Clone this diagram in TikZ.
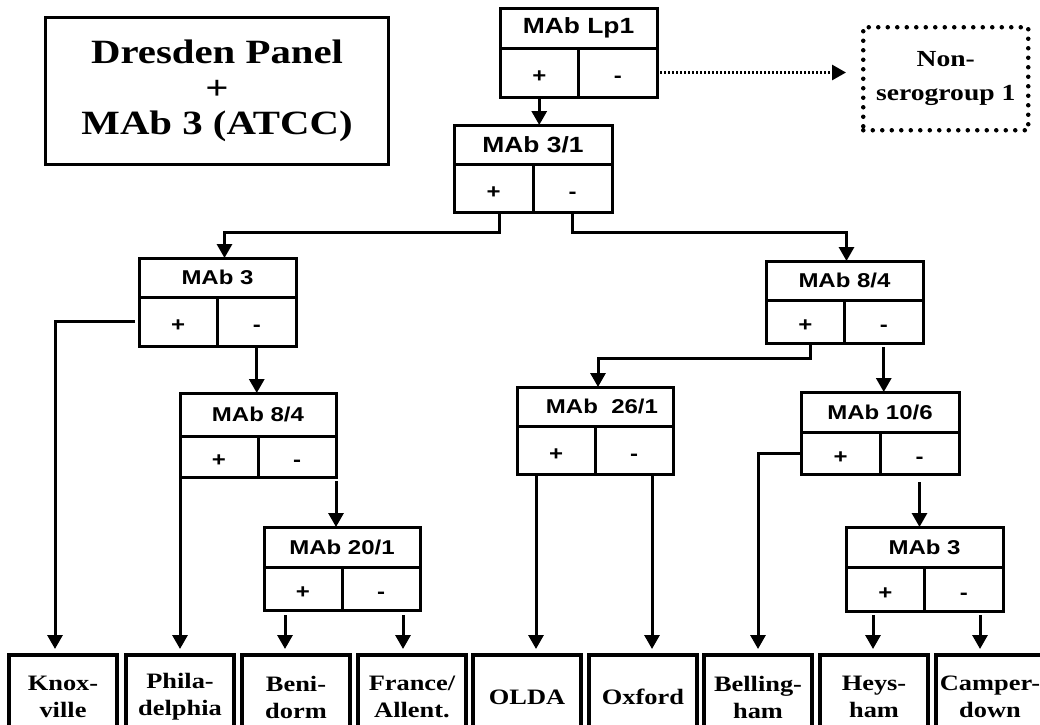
\documentclass[tikz,border=0pt]{standalone}
\usepackage{fontspec}
\setmainfont{Liberation Serif}
\newfontfamily\tms[FakeStretch=1.2]{Liberation Serif}
\newfontfamily\hv[FakeStretch=1.2]{Liberation Sans}
\usetikzlibrary{arrows.meta}
\tikzset{
  box/.style={draw, line width=3pt, inner sep=0pt, outer sep=0pt},
  hdr/.style={box, anchor=north west, font={\hv\bfseries\fontsize{20}{24}\selectfont}},
  cell/.style={box, text height=20pt, text depth=0pt, font={\hv\bfseries\fontsize{20}{24}\selectfont}},
  leaf/.style={draw, line width=3.2pt, inner sep=0pt, outer sep=0pt, anchor=north west,
    minimum width=108pt, minimum height=84pt, align=center,
    font={\tms\bfseries\fontsize{22}{27}\selectfont}},
  titlebox/.style={draw, line width=3.2pt, inner sep=0pt, anchor=north west, align=center,
    font={\tms\bfseries\fontsize{34}{35.5}\selectfont}},
  dotbox/.style={draw, line width=4.5pt, dash pattern=on 0pt off 9.5pt, line cap=round,
    inner sep=0pt, anchor=north west, align=center,
    font={\tms\bfseries\fontsize{23}{34}\selectfont}},
  arr/.style={line width=3pt, -{Triangle[width=15pt,length=14pt]}},
  dotarr/.style={line width=2.8pt, dash pattern=on 2pt off 2pt, -{Triangle[width=15pt,length=14pt]}},
  toleaf/.style={shorten >=6pt}
}
\newcommand\mabtable[7]{%
  \node[hdr, minimum width=#4pt, minimum height=#5pt] (#1h) at (#2,#3) {#7};
  \node[cell, minimum width=#4pt/2, minimum height=#6pt, anchor=north west] (#1p) at (#1h.south west) {+};
  \node[cell, minimum width=#4pt/2, minimum height=#6pt, anchor=north east] (#1m) at (#1h.south east) {-};
}
\begin{document}
\begin{tikzpicture}[x=1pt,y=-1pt]
\useasboundingbox (0,0) rectangle (1040,724);
\fill[white] (0,0) rectangle (1040,724);
\clip (0,0) rectangle (1040,724);

% title
\node[titlebox, minimum width=343pt, minimum height=147pt] (title) at (44,16)
  {Dresden Panel\\+\\MAb 3 (ATCC)};

% non-serogroup
\node[dotbox, minimum width=165pt, minimum height=103pt] (ns) at (861,25) {Non-\\serogroup 1};

% MAb tables
\mabtable{lp}{500}{8}{157}{40}{49}{\fontsize{22}{26}\selectfont MAb Lp1}
\mabtable{sa}{454}{125}{158}{39}{48}{\fontsize{22}{26}\selectfont MAb 3/1}
\mabtable{ma}{139}{258}{157}{39}{49}{MAb 3}
\mabtable{ea}{180}{393}{156}{43}{41}{MAb 8/4}
\mabtable{ta}{264}{527}{156}{40}{43}{MAb 20/1}
\mabtable{eb}{766}{261}{157}{39}{43}{MAb 8/4}
\mabtable{sb}{517}{387}{156}{39}{48}{\hspace*{14pt}MAb\ \ 26/1}
\mabtable{tb}{801}{392}{158}{40}{42}{MAb 10/6}
\mabtable{mb}{846}{527}{157}{40}{44}{MAb 3}

% leaves
\node[leaf] (knox)   at (9,655)   {Knox-\\ville};
\node[leaf] (phila)  at (126,655) {Phila-\\delphia};
\node[leaf] (beni)   at (242,655) {Beni-\\dorm};
\node[leaf] (france) at (358,655) {France/\\Allent.};
\node[leaf] (olda)   at (473,655) {OLDA};
\node[leaf] (oxford) at (589,655) {Oxford};
\node[leaf] (bell)   at (704,655) {Belling-\\ham};
\node[leaf] (heys)   at (820,655) {Heys-\\ham};
\node[leaf] (camp)   at (936,655) {Camper-\\down};

% arrow columns
\coordinate (aKnox) at (55,0);
\coordinate (aBeni) at (285,0);
\coordinate (aFrance) at (403,0);
\coordinate (aOLDA) at (536,0);
\coordinate (aOxford) at (652,0);
\coordinate (aBell) at (758,0);
\coordinate (aHeys) at (873,0);
\coordinate (aCamp) at (980,0);

% connectors
\draw[arr] (lpp.south) -- (lpp.south |- sah.north);
\draw[dotarr, shorten <=3pt, shorten >=15pt] (lpm.east) -- (lpm.east -| ns.west);
\draw[arr] ([xshift=6pt]sap.south) -- ++(0,20) -| ([xshift=7pt]mah.north);
\draw[arr] (sam.south) -- ++(0,20) -| ([xshift=2pt]ebh.north);
\draw[arr, toleaf, shorten <=4pt] (map.west) -| (aKnox |- knox.north);
\draw[arr] (mam.south) -- (mam.south |- eah.north);
\draw[arr, toleaf] (eap.south west) -- (eap.south west |- phila.north);
\draw[arr, shorten <=4pt] (eam.south east) -- (eam.south east |- tah.north);
\draw[arr, toleaf, shorten <=5pt] (aBeni |- tap.south) -- (aBeni |- beni.north);
\draw[arr, toleaf, shorten <=5pt] (aFrance |- tam.south) -- (aFrance |- france.north);
\draw[arr] ([xshift=5pt]ebp.south) -- ++(0,15) -| ([xshift=3pt]sbh.north);
\draw[arr, toleaf] (aOLDA |- sbp.south) -- (aOLDA |- olda.north);
\draw[arr, toleaf] (aOxford |- sbm.south) -- (aOxford |- oxford.north);
\draw[arr, shorten <=4pt] (ebm.south) -- (ebm.south |- tbh.north);
\draw[arr, toleaf] (tbp.west) -| (aBell |- bell.north);
\draw[arr, shorten <=8pt] (tbm.south) -- (tbm.south |- mbh.north);
\draw[arr, toleaf, shorten <=4pt] (aHeys |- mbp.south) -- (aHeys |- heys.north);
\draw[arr, toleaf, shorten <=4pt] (aCamp |- mbm.south) -- (aCamp |- camp.north);
\end{tikzpicture}
\end{document}
